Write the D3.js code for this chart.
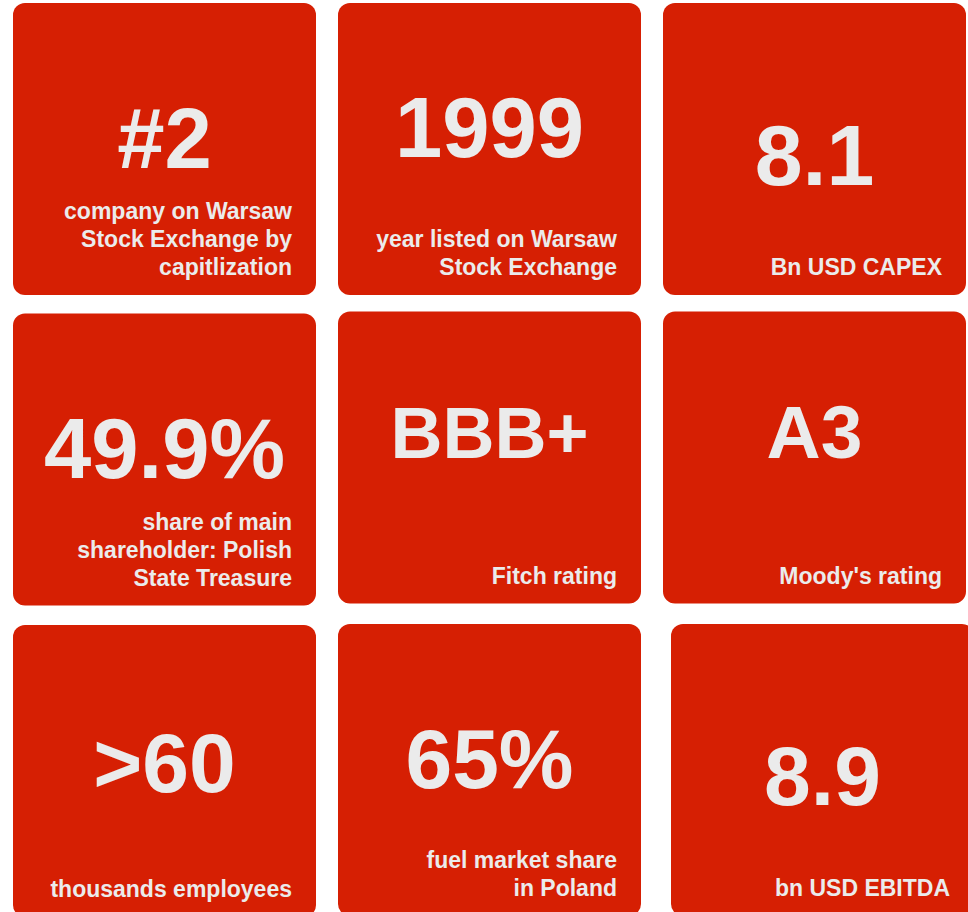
<!DOCTYPE html>
<html>
<head>
<meta charset="utf-8">
<script src="https://cdn.jsdelivr.net/npm/d3@7"></script>
<style>
	html, body { margin: 0; padding: 0; background: #fff; }
	svg { display: block; }
	.tile-value { font-family: "Liberation Sans", Arial, sans-serif; font-weight: bold; fill: #ebebeb; text-anchor: middle; }
	.tile-label { font-family: "Liberation Sans", Arial, sans-serif; font-weight: bold; fill: #ebebeb; text-anchor: end; font-size: 23px; }
</style>
</head>
<body>
<svg id="tiles_svg" width="968" height="912"></svg>
<script>
// key figures, read row by row
var values = ["#2", "1999", "8.1", "49.9%", "BBB+", "A3", ">60", "65%", "8.9"];

var labels = [
	["company on Warsaw", "Stock Exchange by", "capitlization"],
	["year listed on Warsaw", "Stock Exchange"],
	["Bn USD CAPEX"],
	["share of main", "shareholder: Polish", "State Treasure"],
	["Fitch rating"],
	["Moody's rating"],
	["thousands employees"],
	["fuel market share", "in Poland"],
	["bn USD EBITDA"]
];

// layout tweaks per tile (the source grid is slightly uneven)
var nudgeX = [0, 0, 0, 0, 0, 0, 0, 0, 8],
	nudgeY = [0, 0, 0, 0, -2, -2, 1, 0, 0],
	valueBase = [165, 154, 182, 164, 146, 146, 167, 164, 181],
	valueSize = [85, 85, 86, 85, 72, 75, 84, 84, 84];

var svg = d3.select("#tiles_svg"),
	tileW = 303,
	tileH = 292,
	lineH = 28;

var x = d3.scaleLinear().domain([0, 1]).range([13, 338]),
	y = d3.scaleLinear().domain([0, 1]).range([3, 313.5]);

var tiles = values.map(function(v, i) {
	return {
		value: v,
		label: labels[i],
		x: x(i % 3) + nudgeX[i],
		y: y(Math.floor(i / 3)) + nudgeY[i],
		i: i
	};
});

var g = svg.selectAll("g.tile")
	.data(tiles)
	.enter()
	.append("g")
	.attr("class", "tile")
	.attr("transform", function(d) { return "translate(" + d.x + "," + d.y + ")"; });

g.append("rect")
	.attr("width", tileW)
	.attr("height", tileH)
	.attr("rx", 12)
	.attr("ry", 12)
	.attr("fill", "#d61f03");

g.append("text")
	.attr("class", "tile-value")
	.attr("x", tileW / 2)
	.attr("y", function(d) { return valueBase[d.i]; })
	.style("font-size", function(d) { return valueSize[d.i] + "px"; })
	.text(function(d) { return d.value; });

g.append("text")
	.attr("class", "tile-label")
	.selectAll("tspan")
	.data(function(d) {
		var n = d.label.length;
		return d.label.map(function(t, k) { return { t: t, k: k, n: n }; });
	})
	.enter()
	.append("tspan")
	.attr("x", tileW - 24)
	.attr("y", function(d) { return tileH - 20 - (d.n - 1 - d.k) * lineH; })
	.text(function(d) { return d.t; });
</script>
</body>
</html>
